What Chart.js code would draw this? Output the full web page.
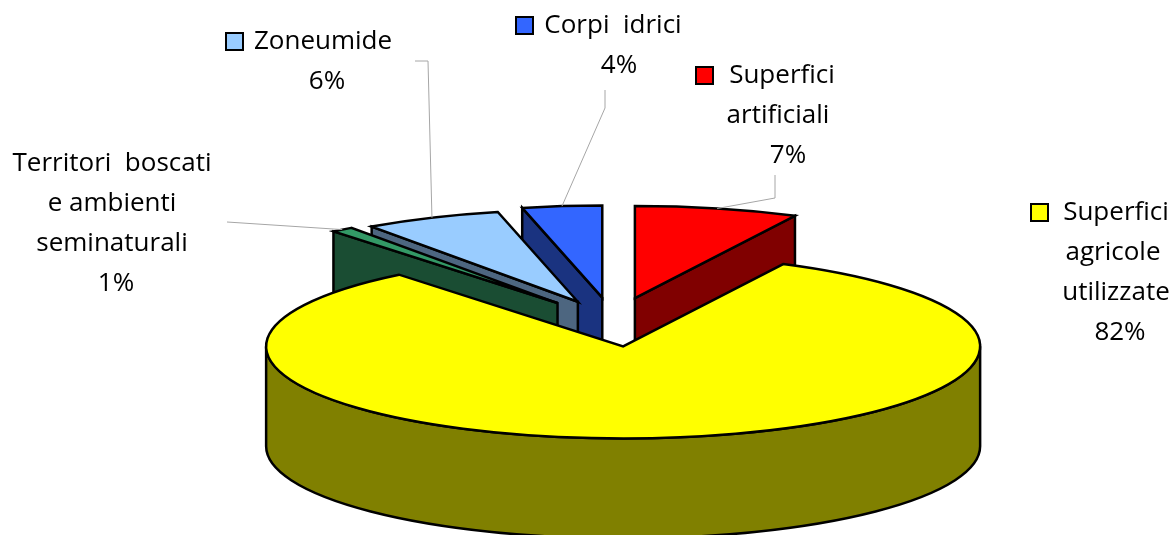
<!DOCTYPE html>
<html>
<head>
<meta charset="utf-8">
<title>Uso del suolo</title>
<script src="https://cdn.jsdelivr.net/npm/chart.js@4"></script>
<style>
    html, body { margin: 0; padding: 0; background: #fff; }
    canvas { display: block; }
</style>
</head>
<body>
<canvas id="torta" width="1175" height="535"></canvas>
<script>
// valori, in senso orario a partire dalle 12
const categorie = ["Superfici artificiali", "Superfici agricole utilizzate", "Territori boscati e ambienti seminaturali", "Zoneumide", "Corpi idrici"];
const valori = [7.4, 81.8, 1.0, 6.2, 3.6];
const righeEtichette = [
    ["Superfici", "artificiali"],
    ["Superfici", "agricole", "utilizzate"],
    ["Territori  boscati", "e ambienti", "seminaturali"],
    ["Zoneumide"],
    ["Corpi  idrici"]
];
const colori = ["#ff0000", "#ffff00", "#339966", "#99ccff", "#3366ff"];
const coloriLato = ["#800000", "#808000", "#1a4d33", "#4d6680", "#1a3380"];

// impaginazione delle etichette (non sono dati)
const posEtichette = [
    { key: 697, xs: [782, 778, 788], y: 75 },
    { key: 1032, xs: [1116, 1113, 1116, 1120], y: 212 },
    { key: null, xs: [112, 112, 112, 116], y: 163 },
    { key: 227, xs: [323, 327], y: 41 },
    { key: 517, xs: [613, 619], y: 25 }
];
const gomiti = [
    [[775, 175], [775, 198]],
    [],
    [[227, 222]],
    [[415, 61], [428, 61]],
    [[605, 90], [605, 108]]
];

const SCHIACCIA = 0.258;  // rapporto ellisse
const SPESSORE = 100;     // altezza della torta
const ESPLOSO = [95, 95, 92, 86, 95]; // distanza delle fette dal centro

function punto(arc, off, ang, r) {
    const mid = (arc.startAngle + arc.endAngle) / 2;
    return {
        x: arc.x + Math.cos(mid) * off + Math.cos(ang) * r,
        y: arc.y + (Math.sin(mid) * off + Math.sin(ang) * r) * SCHIACCIA
    };
}

function muro(ctx, a, b, colore) {
    ctx.beginPath();
    ctx.moveTo(a.x, a.y);
    ctx.lineTo(b.x, b.y);
    ctx.lineTo(b.x, b.y + SPESSORE);
    ctx.lineTo(a.x, a.y + SPESSORE);
    ctx.closePath();
    ctx.fillStyle = colore;
    ctx.fill();
    ctx.stroke();
}

function disegnaFetta(ctx, arc, i) {
    const off = arc.options.offset / 4;
    const r = arc.outerRadius;
    const centro = punto(arc, off, 0, 0);
    const inizio = punto(arc, off, arc.startAngle, r);
    const fine = punto(arc, off, arc.endAngle, r);

    // lati piani rivolti verso chi guarda
    if (Math.cos(arc.startAngle) < -0.01) muro(ctx, centro, inizio, coloriLato[i]);
    if (Math.cos(arc.endAngle) > 0.01) muro(ctx, centro, fine, coloriLato[i]);

    // lato curvo, solo la parte davanti
    const da = Math.max(arc.startAngle, 0);
    const a = Math.min(arc.endAngle, Math.PI);
    if (da < a) {
        ctx.beginPath();
        ctx.ellipse(centro.x, centro.y, r, r * SCHIACCIA, 0, da, a);
        ctx.ellipse(centro.x, centro.y + SPESSORE, r, r * SCHIACCIA, 0, a, da, true);
        ctx.closePath();
        ctx.fillStyle = coloriLato[i];
        ctx.fill();
        ctx.stroke();
    }

    // faccia superiore
    ctx.beginPath();
    ctx.moveTo(centro.x, centro.y);
    ctx.ellipse(centro.x, centro.y, r, r * SCHIACCIA, 0, arc.startAngle, arc.endAngle);
    ctx.closePath();
    ctx.fillStyle = colori[i];
    ctx.fill();
    ctx.stroke();
}

function disegnaEtichette(ctx, fette) {
    ctx.font = '26px "Open Sans"';
    ctx.textAlign = "center";
    ctx.textBaseline = "middle";
    categorie.forEach((nome, i) => {
        const pos = posEtichette[i];
        const righe = righeEtichette[i].concat(Math.round(valori[i]) + "%");

        // linea guida
        if (gomiti[i].length) {
            const arc = fette[i];
            const mid = (arc.startAngle + arc.endAngle) / 2;
            const p = punto(arc, arc.options.offset / 4, mid, arc.outerRadius);
            ctx.beginPath();
            gomiti[i].forEach((g, n) => n ? ctx.lineTo(g[0], g[1]) : ctx.moveTo(g[0], g[1]));
            ctx.lineTo(p.x, p.y);
            ctx.strokeStyle = "#a6a6a6";
            ctx.lineWidth = 1;
            ctx.stroke();
        }

        if (pos.key !== null) {
            ctx.fillStyle = colori[i];
            ctx.strokeStyle = "#000";
            ctx.lineWidth = 2;
            ctx.fillRect(pos.key - 1, pos.y - 8, 17, 17);
            ctx.strokeRect(pos.key - 1, pos.y - 8, 17, 17);
        }

        ctx.fillStyle = "#000";
        righe.forEach((testo, n) => {
            ctx.fillText(testo, pos.xs[n], pos.y + 1 + n * 40);
        });
    });
}

const torta3d = {
    id: "torta3d",
    // la fetta viene disegnata qui sotto, schiacciata e con lo spessore
    beforeDatasetDraw(chart) {
        const ctx = chart.ctx;
        const fette = chart.getDatasetMeta(0).data;
        const ordine = fette.map((arc, i) => i).sort((a, b) => {
            const ma = (fette[a].startAngle + fette[a].endAngle) / 2;
            const mb = (fette[b].startAngle + fette[b].endAngle) / 2;
            return Math.sin(ma) - Math.sin(mb);
        });
        ctx.save();
        ctx.lineJoin = "miter";
        ordine.forEach(i => {
            ctx.strokeStyle = "#000";
            ctx.lineWidth = 2.5;
            disegnaFetta(ctx, fette[i], i);
        });
        disegnaEtichette(ctx, fette);
        ctx.restore();
        return false;
    }
};

const ctx = document.getElementById("torta").getContext("2d");
new Chart(ctx, {
    type: "pie",
    data: {
        labels: categorie,
        datasets: [{
            data: valori,
            backgroundColor: colori,
            borderWidth: 0,
            offset: ESPLOSO.map(e => e * 4)
        }]
    },
    options: {
        responsive: false,
        animation: false,
        events: [],
        radius: 357,
        layout: { padding: { left: 51, top: 109 } },
        plugins: { legend: { display: false }, tooltip: { enabled: false } }
    },
    plugins: [torta3d]
});
</script>
</body>
</html>
